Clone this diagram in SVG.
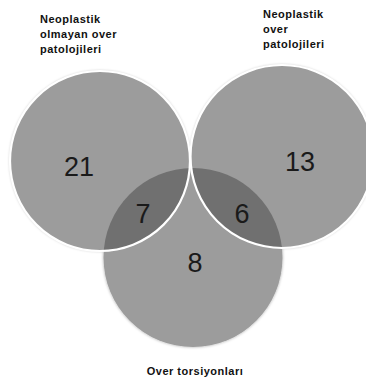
<svg xmlns="http://www.w3.org/2000/svg" width="366" height="381" viewBox="0 0 366 381">
<style>
.set{fill:#9c9c9c}
.lens{fill:#707070}
.edge{fill:none;stroke:#ffffff;stroke-width:2.2}
.num{font-family:"Liberation Sans",Arial,sans-serif;font-size:27px;fill:#1a1a1a;text-anchor:middle}
.lbl{font-family:"Liberation Sans",Arial,sans-serif;font-size:11px;font-weight:bold;fill:#111;letter-spacing:0.5px}
</style>
<defs>
<filter id="sh" x="-10%" y="-10%" width="120%" height="120%">
<feDropShadow dx="0" dy="0" stdDeviation="1.5" flood-color="#000" flood-opacity="0.35"/>
</filter>
<clipPath id="cB"><circle cx="193" cy="257.5" r="89.5"/></clipPath>
</defs>
<g id="circles" filter="url(#sh)">
<g id="set-torsiyon"><circle class="set" cx="193" cy="257.5" r="89.5"/></g>
<g id="set-nonneo"><circle class="set" cx="100" cy="161" r="90"/></g>
<g id="set-neo"><circle class="set" cx="282" cy="156.5" r="91.5"/></g>
</g>
<g id="intersections" clip-path="url(#cB)">
<circle class="lens" cx="100" cy="161" r="90"/>
<circle class="lens" cx="282" cy="156.5" r="91.5"/>
</g>
<g id="outlines">
<circle class="edge" cx="100" cy="161" r="90"/>
<circle class="edge" cx="282" cy="156.5" r="91.5"/>
</g>
<g id="counts">
<text class="num" x="79" y="176">21</text>
<text class="num" x="300" y="171">13</text>
<text class="num" x="143" y="223">7</text>
<text class="num" x="242" y="223">6</text>
<text class="num" x="195" y="272">8</text>
</g>
<g id="labels">
<text class="lbl" x="40" y="23">Neoplastik</text>
<text class="lbl" x="40" y="38">olmayan over</text>
<text class="lbl" x="40" y="53">patolojileri</text>
<text class="lbl" x="263" y="18">Neoplastik</text>
<text class="lbl" x="263" y="33">over</text>
<text class="lbl" x="263" y="48">patolojileri</text>
<text class="lbl" x="195" y="375" text-anchor="middle">Over torsiyonları</text>
</g>
</svg>
